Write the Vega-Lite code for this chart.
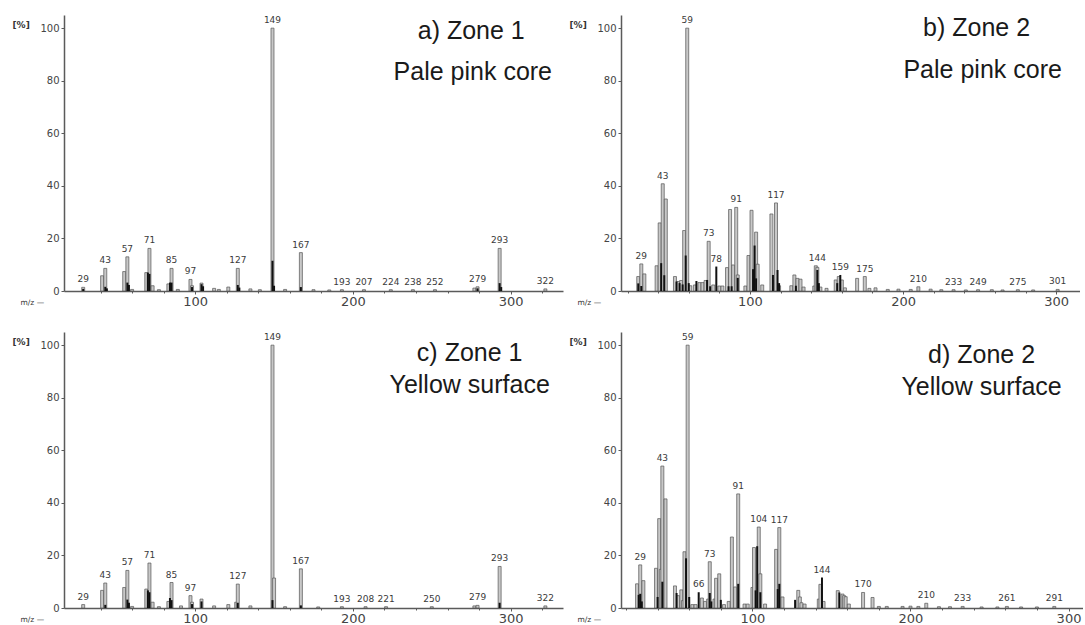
{
  "$schema": "https://vega.github.io/schema/vega-lite/v6.json",
  "background": "white",
  "padding": {"left": 12, "top": 15, "right": 0, "bottom": 0},
  "columns": 2,
  "spacing": {"row": 41, "column": 58},
  "bounds": "flush",
  "config": {
    "view": {"stroke": null},
    "axis": {"labelFont": "DejaVu Sans", "labelColor": "#444", "domainColor": "#5a5a5a", "domainWidth": 1.5, "tickColor": "#5a5a5a", "grid": false, "titleFont": "DejaVu Sans", "titleColor": "#333", "labelOverlap": false, "labelFlush": false},
    "axisX": {"labelFontSize": 13, "labelPadding": 1, "labelExpr": "datum.value % 100 == 0 ? datum.label : ''", "tickSize": {"condition": {"test": "datum.value % 100 == 0", "value": 3}, "value": 2}},
    "axisY": {"labelFontSize": 10, "labelPadding": 2, "values": [0, 4, 8, 12, 16, 20, 24, 28, 32, 36, 40, 44, 48, 52, 56, 60, 64, 68, 72, 76, 80, 84, 88, 92, 96, 100, 104], "labelExpr": "datum.value % 20 == 0 ? datum.label : ''", "tickSize": {"condition": {"test": "datum.value % 20 == 0", "value": 3}, "value": 1.5}}
  },
  "datasets": {
    "a": [
      {"mz": 29, "int": 1.4, "tone": "g"}, {"mz": 41, "int": 5.8, "tone": "g"}, {"mz": 43, "int": 8.6, "tone": "g"}, {"mz": 55, "int": 7.4, "tone": "g"}, {"mz": 57, "int": 13, "tone": "g"}, {"mz": 60, "int": 0.6, "tone": "g"}, {"mz": 69, "int": 7, "tone": "g"}, {"mz": 71, "int": 16.2, "tone": "g"}, {"mz": 73, "int": 2, "tone": "g"}, {"mz": 77, "int": 0.5, "tone": "g"}, {"mz": 83, "int": 2.7, "tone": "g"}, {"mz": 85, "int": 8.6, "tone": "g"}, {"mz": 89, "int": 0.6, "tone": "g"}, {"mz": 97, "int": 4.4, "tone": "g"}, {"mz": 98, "int": 2, "tone": "g"}, {"mz": 104, "int": 3, "tone": "g"}, {"mz": 112, "int": 1, "tone": "g"}, {"mz": 115, "int": 0.6, "tone": "g"}, {"mz": 121, "int": 1.5, "tone": "g"}, {"mz": 127, "int": 8.6, "tone": "g"}, {"mz": 135, "int": 0.8, "tone": "g"}, {"mz": 141, "int": 0.5, "tone": "g"}, {"mz": 149, "int": 100, "tone": "g"}, {"mz": 157, "int": 0.6, "tone": "g"}, {"mz": 167, "int": 14.6, "tone": "g"}, {"mz": 175, "int": 0.5, "tone": "g"}, {"mz": 185, "int": 0.4, "tone": "g"}, {"mz": 193, "int": 0.5, "tone": "g"}, {"mz": 207, "int": 0.5, "tone": "g"}, {"mz": 224, "int": 0.5, "tone": "g"}, {"mz": 238, "int": 0.5, "tone": "g"}, {"mz": 252, "int": 0.5, "tone": "g"}, {"mz": 277, "int": 1.1, "tone": "g"}, {"mz": 279, "int": 1.6, "tone": "g"}, {"mz": 293, "int": 16.2, "tone": "g"}, {"mz": 322, "int": 0.8, "tone": "g"},
      {"mz": 29, "int": 0.8, "tone": "k"}, {"mz": 43, "int": 1.6, "tone": "k"}, {"mz": 44, "int": 1, "tone": "k"}, {"mz": 57, "int": 3.2, "tone": "k"}, {"mz": 58, "int": 2.3, "tone": "k"}, {"mz": 70, "int": 7, "tone": "k"}, {"mz": 71, "int": 6.5, "tone": "k"}, {"mz": 84, "int": 3.2, "tone": "k"}, {"mz": 85, "int": 3.2, "tone": "k"}, {"mz": 98, "int": 1.5, "tone": "k"}, {"mz": 104, "int": 2.6, "tone": "k"}, {"mz": 105, "int": 1.8, "tone": "k"}, {"mz": 127, "int": 2.3, "tone": "k"}, {"mz": 128, "int": 1.3, "tone": "k"}, {"mz": 149, "int": 11.5, "tone": "k"}, {"mz": 150, "int": 2, "tone": "k"}, {"mz": 167, "int": 1.5, "tone": "k"}, {"mz": 279, "int": 1, "tone": "k"}, {"mz": 293, "int": 3, "tone": "k"}, {"mz": 294, "int": 1.5, "tone": "k"}
    ],
    "la": [
      {"mz": 29, "int": 1.4, "label": "29"}, {"mz": 43, "int": 8.6, "label": "43"}, {"mz": 57, "int": 13, "label": "57"}, {"mz": 71, "int": 16.2, "label": "71"}, {"mz": 85, "int": 8.6, "label": "85"}, {"mz": 97, "int": 4.4, "label": "97"}, {"mz": 127, "int": 8.6, "label": "127"}, {"mz": 149, "int": 100, "label": "149"}, {"mz": 167, "int": 14.6, "label": "167"}, {"mz": 193, "int": 0.5, "label": "193"}, {"mz": 207, "int": 0.5, "label": "207"}, {"mz": 224, "int": 0.5, "label": "224"}, {"mz": 238, "int": 0.5, "label": "238"}, {"mz": 252, "int": 0.5, "label": "252"}, {"mz": 279, "int": 1.6, "label": "279"}, {"mz": 293, "int": 16.2, "label": "293"}, {"mz": 322, "int": 0.8, "label": "322"}
    ],
    "ta": [
      {"mz": 275, "int": 99, "label": "a) Zone 1"}, {"mz": 276, "int": 83.3, "label": "Pale pink core"}
    ],
    "b": [
      {"mz": 27, "int": 5.5, "tone": "g"}, {"mz": 29, "int": 10.3, "tone": "g"}, {"mz": 31, "int": 6.5, "tone": "g"}, {"mz": 39, "int": 9.6, "tone": "g"}, {"mz": 41, "int": 25.9, "tone": "g"}, {"mz": 43, "int": 40.8, "tone": "g"}, {"mz": 45, "int": 35, "tone": "g"}, {"mz": 51, "int": 5.5, "tone": "g"}, {"mz": 53, "int": 3.6, "tone": "g"}, {"mz": 55, "int": 4, "tone": "g"}, {"mz": 57, "int": 23, "tone": "g"}, {"mz": 59, "int": 100, "tone": "g"}, {"mz": 61, "int": 2, "tone": "g"}, {"mz": 64, "int": 2.3, "tone": "g"}, {"mz": 67, "int": 3.2, "tone": "g"}, {"mz": 69, "int": 3.2, "tone": "g"}, {"mz": 71, "int": 4, "tone": "g"}, {"mz": 73, "int": 18.9, "tone": "g"}, {"mz": 76, "int": 2.3, "tone": "g"}, {"mz": 80, "int": 1.9, "tone": "g"}, {"mz": 82, "int": 1.9, "tone": "g"}, {"mz": 85, "int": 8.9, "tone": "g"}, {"mz": 87, "int": 31, "tone": "g"}, {"mz": 89, "int": 9.9, "tone": "g"}, {"mz": 91, "int": 31.8, "tone": "g"}, {"mz": 92, "int": 6.1, "tone": "g"}, {"mz": 97, "int": 1.9, "tone": "g"}, {"mz": 99, "int": 13.5, "tone": "g"}, {"mz": 101, "int": 30.7, "tone": "g"}, {"mz": 104, "int": 22.4, "tone": "g"}, {"mz": 105, "int": 10.2, "tone": "g"}, {"mz": 108, "int": 2.3, "tone": "g"}, {"mz": 114, "int": 29.3, "tone": "g"}, {"mz": 117, "int": 33.5, "tone": "g"}, {"mz": 119, "int": 2, "tone": "g"}, {"mz": 127, "int": 2, "tone": "g"}, {"mz": 129, "int": 6.1, "tone": "g"}, {"mz": 131, "int": 4.8, "tone": "g"}, {"mz": 133, "int": 4.5, "tone": "g"}, {"mz": 135, "int": 1.5, "tone": "g"}, {"mz": 142, "int": 1.9, "tone": "g"}, {"mz": 143, "int": 9.6, "tone": "g"}, {"mz": 144, "int": 9, "tone": "g"}, {"mz": 146, "int": 1.5, "tone": "g"}, {"mz": 150, "int": 1, "tone": "g"}, {"mz": 156, "int": 4.2, "tone": "g"}, {"mz": 158, "int": 5.5, "tone": "g"}, {"mz": 160, "int": 4.2, "tone": "g"}, {"mz": 162, "int": 1.2, "tone": "g"}, {"mz": 170, "int": 4.8, "tone": "g"}, {"mz": 175, "int": 5.5, "tone": "g"}, {"mz": 178, "int": 1, "tone": "g"}, {"mz": 182, "int": 1.2, "tone": "g"}, {"mz": 190, "int": 0.6, "tone": "g"}, {"mz": 197, "int": 0.7, "tone": "g"}, {"mz": 205, "int": 0.6, "tone": "g"}, {"mz": 210, "int": 1.6, "tone": "g"}, {"mz": 218, "int": 0.7, "tone": "g"}, {"mz": 225, "int": 0.5, "tone": "g"}, {"mz": 233, "int": 0.5, "tone": "g"}, {"mz": 241, "int": 0.4, "tone": "g"}, {"mz": 249, "int": 0.5, "tone": "g"}, {"mz": 258, "int": 0.5, "tone": "g"}, {"mz": 265, "int": 0.4, "tone": "g"}, {"mz": 275, "int": 0.5, "tone": "g"}, {"mz": 285, "int": 0.4, "tone": "g"}, {"mz": 301, "int": 0.6, "tone": "g"},
      {"mz": 27, "int": 2.9, "tone": "k"}, {"mz": 29, "int": 1.9, "tone": "k"}, {"mz": 42, "int": 10.6, "tone": "k"}, {"mz": 44, "int": 6, "tone": "k"}, {"mz": 52, "int": 3.6, "tone": "k"}, {"mz": 54, "int": 3, "tone": "k"}, {"mz": 56, "int": 2.5, "tone": "k"}, {"mz": 58, "int": 13.5, "tone": "k"}, {"mz": 60, "int": 3, "tone": "k"}, {"mz": 65, "int": 3.8, "tone": "k"}, {"mz": 72, "int": 4.2, "tone": "k"}, {"mz": 74, "int": 1.8, "tone": "k"}, {"mz": 78, "int": 9.3, "tone": "k"}, {"mz": 86, "int": 1.8, "tone": "k"}, {"mz": 88, "int": 1.8, "tone": "k"}, {"mz": 92, "int": 5, "tone": "k"}, {"mz": 102, "int": 8.3, "tone": "k"}, {"mz": 103, "int": 17.3, "tone": "k"}, {"mz": 104, "int": 4.8, "tone": "k"}, {"mz": 115, "int": 6.1, "tone": "k"}, {"mz": 118, "int": 8, "tone": "k"}, {"mz": 119, "int": 3, "tone": "k"}, {"mz": 130, "int": 2, "tone": "k"}, {"mz": 144, "int": 8, "tone": "k"}, {"mz": 145, "int": 3, "tone": "k"}, {"mz": 157, "int": 3, "tone": "k"}, {"mz": 159, "int": 6.1, "tone": "k"}
    ],
    "lb": [
      {"mz": 29, "int": 10.3, "label": "29"}, {"mz": 43, "int": 40.8, "label": "43"}, {"mz": 59, "int": 100, "label": "59"}, {"mz": 73, "int": 18.9, "label": "73"}, {"mz": 78, "int": 9.3, "label": "78"}, {"mz": 91, "int": 31.8, "label": "91"}, {"mz": 117, "int": 33.5, "label": "117"}, {"mz": 144, "int": 9.6, "label": "144"}, {"mz": 159, "int": 6.1, "label": "159"}, {"mz": 175, "int": 5.5, "label": "175"}, {"mz": 210, "int": 1.6, "label": "210"}, {"mz": 233, "int": 0.5, "label": "233"}, {"mz": 249, "int": 0.5, "label": "249"}, {"mz": 275, "int": 0.5, "label": "275"}, {"mz": 301, "int": 0.6, "label": "301"}
    ],
    "tb": [
      {"mz": 248, "int": 100, "label": "b) Zone 2"}, {"mz": 252, "int": 84, "label": "Pale pink core"}
    ],
    "c": [
      {"mz": 29, "int": 1.3, "tone": "g"}, {"mz": 41, "int": 6.7, "tone": "g"}, {"mz": 43, "int": 9.5, "tone": "g"}, {"mz": 55, "int": 7.8, "tone": "g"}, {"mz": 57, "int": 14.3, "tone": "g"}, {"mz": 60, "int": 0.6, "tone": "g"}, {"mz": 69, "int": 7.2, "tone": "g"}, {"mz": 71, "int": 17.1, "tone": "g"}, {"mz": 73, "int": 2.2, "tone": "g"}, {"mz": 77, "int": 0.5, "tone": "g"}, {"mz": 83, "int": 2.5, "tone": "g"}, {"mz": 85, "int": 9.7, "tone": "g"}, {"mz": 91, "int": 0.8, "tone": "g"}, {"mz": 97, "int": 4.7, "tone": "g"}, {"mz": 98, "int": 2.2, "tone": "g"}, {"mz": 104, "int": 3.4, "tone": "g"}, {"mz": 112, "int": 0.8, "tone": "g"}, {"mz": 121, "int": 1.3, "tone": "g"}, {"mz": 126, "int": 2.2, "tone": "g"}, {"mz": 127, "int": 9.1, "tone": "g"}, {"mz": 135, "int": 0.8, "tone": "g"}, {"mz": 149, "int": 100, "tone": "g"}, {"mz": 150, "int": 11.4, "tone": "g"}, {"mz": 157, "int": 0.5, "tone": "g"}, {"mz": 167, "int": 14.9, "tone": "g"}, {"mz": 178, "int": 0.4, "tone": "g"}, {"mz": 193, "int": 0.5, "tone": "g"}, {"mz": 208, "int": 0.5, "tone": "g"}, {"mz": 221, "int": 0.5, "tone": "g"}, {"mz": 250, "int": 0.5, "tone": "g"}, {"mz": 277, "int": 0.8, "tone": "g"}, {"mz": 279, "int": 1, "tone": "g"}, {"mz": 293, "int": 15.8, "tone": "g"}, {"mz": 322, "int": 0.8, "tone": "g"},
      {"mz": 43, "int": 1.2, "tone": "k"}, {"mz": 57, "int": 3.2, "tone": "k"}, {"mz": 58, "int": 2, "tone": "k"}, {"mz": 70, "int": 6.7, "tone": "k"}, {"mz": 71, "int": 6, "tone": "k"}, {"mz": 84, "int": 3.8, "tone": "k"}, {"mz": 85, "int": 3, "tone": "k"}, {"mz": 98, "int": 1.5, "tone": "k"}, {"mz": 104, "int": 2.5, "tone": "k"}, {"mz": 127, "int": 2, "tone": "k"}, {"mz": 149, "int": 3, "tone": "k"}, {"mz": 167, "int": 1, "tone": "k"}, {"mz": 293, "int": 2, "tone": "k"}
    ],
    "lc": [
      {"mz": 29, "int": 1.3, "label": "29"}, {"mz": 43, "int": 9.5, "label": "43"}, {"mz": 57, "int": 14.3, "label": "57"}, {"mz": 71, "int": 17.1, "label": "71"}, {"mz": 85, "int": 9.7, "label": "85"}, {"mz": 97, "int": 4.7, "label": "97"}, {"mz": 127, "int": 9.1, "label": "127"}, {"mz": 149, "int": 100, "label": "149"}, {"mz": 167, "int": 14.9, "label": "167"}, {"mz": 193, "int": 0.5, "label": "193"}, {"mz": 208, "int": 0.5, "label": "208"}, {"mz": 221, "int": 0.5, "label": "221"}, {"mz": 250, "int": 0.5, "label": "250"}, {"mz": 279, "int": 1, "label": "279"}, {"mz": 293, "int": 15.8, "label": "293"}, {"mz": 322, "int": 0.8, "label": "322"}
    ],
    "tc": [
      {"mz": 274, "int": 97, "label": "c) Zone 1"}, {"mz": 274, "int": 84.8, "label": "Yellow surface"}
    ],
    "d": [
      {"mz": 27, "int": 9.2, "tone": "g"}, {"mz": 29, "int": 16.4, "tone": "g"}, {"mz": 31, "int": 10.4, "tone": "g"}, {"mz": 39, "int": 15.1, "tone": "g"}, {"mz": 41, "int": 34, "tone": "g"}, {"mz": 42, "int": 14.7, "tone": "g"}, {"mz": 43, "int": 54, "tone": "g"}, {"mz": 45, "int": 41.5, "tone": "g"}, {"mz": 51, "int": 8.4, "tone": "g"}, {"mz": 53, "int": 4.7, "tone": "g"}, {"mz": 55, "int": 6.9, "tone": "g"}, {"mz": 56, "int": 2.8, "tone": "g"}, {"mz": 57, "int": 21.4, "tone": "g"}, {"mz": 59, "int": 100, "tone": "g"}, {"mz": 62, "int": 1.3, "tone": "g"}, {"mz": 64, "int": 1.3, "tone": "g"}, {"mz": 68, "int": 3.8, "tone": "g"}, {"mz": 70, "int": 2.5, "tone": "g"}, {"mz": 72, "int": 3.4, "tone": "g"}, {"mz": 73, "int": 17.6, "tone": "g"}, {"mz": 76, "int": 3.4, "tone": "g"}, {"mz": 77, "int": 11.3, "tone": "g"}, {"mz": 79, "int": 13, "tone": "g"}, {"mz": 82, "int": 1.3, "tone": "g"}, {"mz": 85, "int": 2.5, "tone": "g"}, {"mz": 87, "int": 27, "tone": "g"}, {"mz": 89, "int": 8, "tone": "g"}, {"mz": 91, "int": 43.4, "tone": "g"}, {"mz": 95, "int": 1.5, "tone": "g"}, {"mz": 97, "int": 1.5, "tone": "g"}, {"mz": 100, "int": 7.8, "tone": "g"}, {"mz": 101, "int": 23, "tone": "g"}, {"mz": 104, "int": 30.8, "tone": "g"}, {"mz": 105, "int": 13, "tone": "g"}, {"mz": 108, "int": 1.5, "tone": "g"}, {"mz": 115, "int": 22.3, "tone": "g"}, {"mz": 117, "int": 30.6, "tone": "g"}, {"mz": 119, "int": 4.2, "tone": "g"}, {"mz": 129, "int": 6.7, "tone": "g"}, {"mz": 130, "int": 4.2, "tone": "g"}, {"mz": 131, "int": 2, "tone": "g"}, {"mz": 133, "int": 1.5, "tone": "g"}, {"mz": 142, "int": 3.4, "tone": "g"}, {"mz": 143, "int": 9, "tone": "g"}, {"mz": 145, "int": 2.5, "tone": "g"}, {"mz": 154, "int": 6.6, "tone": "g"}, {"mz": 157, "int": 5.3, "tone": "g"}, {"mz": 158, "int": 4.7, "tone": "g"}, {"mz": 159, "int": 4.3, "tone": "g"}, {"mz": 161, "int": 1.5, "tone": "g"}, {"mz": 170, "int": 5.9, "tone": "g"}, {"mz": 176, "int": 4, "tone": "g"}, {"mz": 180, "int": 0.6, "tone": "g"}, {"mz": 185, "int": 0.6, "tone": "g"}, {"mz": 195, "int": 0.6, "tone": "g"}, {"mz": 200, "int": 0.7, "tone": "g"}, {"mz": 205, "int": 0.6, "tone": "g"}, {"mz": 210, "int": 1.8, "tone": "g"}, {"mz": 218, "int": 0.5, "tone": "g"}, {"mz": 225, "int": 0.5, "tone": "g"}, {"mz": 233, "int": 0.6, "tone": "g"}, {"mz": 245, "int": 0.4, "tone": "g"}, {"mz": 255, "int": 0.4, "tone": "g"}, {"mz": 261, "int": 0.6, "tone": "g"}, {"mz": 270, "int": 0.4, "tone": "g"}, {"mz": 280, "int": 0.4, "tone": "g"}, {"mz": 291, "int": 0.6, "tone": "g"},
      {"mz": 28, "int": 5, "tone": "k"}, {"mz": 29, "int": 5.4, "tone": "k"}, {"mz": 30, "int": 2.5, "tone": "k"}, {"mz": 40, "int": 4.2, "tone": "k"}, {"mz": 43, "int": 10, "tone": "k"}, {"mz": 52, "int": 5.7, "tone": "k"}, {"mz": 58, "int": 18.9, "tone": "k"}, {"mz": 60, "int": 4.2, "tone": "k"}, {"mz": 66, "int": 6, "tone": "k"}, {"mz": 73, "int": 5.7, "tone": "k"}, {"mz": 74, "int": 2.5, "tone": "k"}, {"mz": 80, "int": 3.1, "tone": "k"}, {"mz": 91, "int": 9.2, "tone": "k"}, {"mz": 102, "int": 6.7, "tone": "k"}, {"mz": 103, "int": 23.5, "tone": "k"}, {"mz": 105, "int": 6, "tone": "k"}, {"mz": 116, "int": 7.2, "tone": "k"}, {"mz": 117, "int": 9.2, "tone": "k"}, {"mz": 127, "int": 3.1, "tone": "k"}, {"mz": 144, "int": 11.6, "tone": "k"}, {"mz": 155, "int": 5.9, "tone": "k"}
    ],
    "ld": [
      {"mz": 29, "int": 16.4, "label": "29"}, {"mz": 43, "int": 54, "label": "43"}, {"mz": 59, "int": 100, "label": "59"}, {"mz": 66, "int": 6, "label": "66"}, {"mz": 73, "int": 17.6, "label": "73"}, {"mz": 91, "int": 43.4, "label": "91"}, {"mz": 104, "int": 30.8, "label": "104"}, {"mz": 117, "int": 30.6, "label": "117"}, {"mz": 144, "int": 11.6, "label": "144"}, {"mz": 170, "int": 5.9, "label": "170"}, {"mz": 210, "int": 1.8, "label": "210"}, {"mz": 233, "int": 0.6, "label": "233"}, {"mz": 261, "int": 0.6, "label": "261"}, {"mz": 291, "int": 0.6, "label": "291"}
    ],
    "td": [
      {"mz": 245, "int": 96.2, "label": "d) Zone 2"}, {"mz": 245, "int": 84, "label": "Yellow surface"}
    ]
  },
  "concat": [
    {
      "width": 499, "height": 276,
      "encoding": {
        "x": {"field": "mz", "type": "quantitative", "scale": {"domain": [20, 330], "nice": false, "zero": false}, "axis": {"values": [40, 60, 80, 100, 120, 140, 160, 180, 200, 220, 240, 260, 280, 300, 320], "title": "m/z —", "titleX": -44, "titleY": 11, "titleAlign": "left", "titleBaseline": "middle", "titleFontSize": 7.5, "titleFontWeight": "normal"}},
        "y": {"field": "int", "type": "quantitative", "scale": {"domain": [0, 105], "nice": false}, "axis": {"title": "[%]", "titleAngle": 0, "titleX": -52, "titleY": 9, "titleAlign": "left", "titleBaseline": "middle", "titleFontSize": 9, "titleFontWeight": "bold"}}
      },
      "layer": [
        {"data": {"name": "a"}, "transform": [{"filter": "datum.tone == 'g'"}], "mark": {"type": "bar", "size": 3, "fill": "#c8c8c8", "stroke": "#555", "strokeWidth": 0.7}},
        {"data": {"name": "a"}, "transform": [{"filter": "datum.tone == 'k'"}], "mark": {"type": "bar", "size": 2, "fill": "#111"}},
        {"data": {"name": "la"}, "mark": {"type": "text", "baseline": "bottom", "dy": -3, "fontSize": 9, "font": "DejaVu Sans", "color": "#3a3a3a"}, "encoding": {"text": {"field": "label"}}},
        {"data": {"name": "ta"}, "mark": {"type": "text", "baseline": "middle", "align": "center", "fontSize": 25, "font": "Liberation Sans", "color": "#1a1a1a"}, "encoding": {"text": {"field": "label"}}}
      ]
    },
    {
      "width": 458.5, "height": 276,
      "encoding": {
        "x": {"field": "mz", "type": "quantitative", "scale": {"domain": [19, 312], "nice": false, "zero": false}, "axis": {"values": [20, 40, 60, 80, 100, 120, 140, 160, 180, 200, 220, 240, 260, 280, 300], "title": "m/z —", "titleX": -44, "titleY": 11, "titleAlign": "left", "titleBaseline": "middle", "titleFontSize": 7.5, "titleFontWeight": "normal"}},
        "y": {"field": "int", "type": "quantitative", "scale": {"domain": [0, 105], "nice": false}, "axis": {"title": "[%]", "titleAngle": 0, "titleX": -52, "titleY": 9, "titleAlign": "left", "titleBaseline": "middle", "titleFontSize": 9, "titleFontWeight": "bold"}}
      },
      "layer": [
        {"data": {"name": "b"}, "transform": [{"filter": "datum.tone == 'g'"}], "mark": {"type": "bar", "size": 3, "fill": "#c8c8c8", "stroke": "#555", "strokeWidth": 0.7}},
        {"data": {"name": "b"}, "transform": [{"filter": "datum.tone == 'k'"}], "mark": {"type": "bar", "size": 2, "fill": "#111"}},
        {"data": {"name": "lb"}, "mark": {"type": "text", "baseline": "bottom", "dy": -3, "fontSize": 9, "font": "DejaVu Sans", "color": "#3a3a3a"}, "encoding": {"text": {"field": "label"}}},
        {"data": {"name": "tb"}, "mark": {"type": "text", "baseline": "middle", "align": "center", "fontSize": 25, "font": "Liberation Sans", "color": "#1a1a1a"}, "encoding": {"text": {"field": "label"}}}
      ]
    },
    {
      "width": 499, "height": 276,
      "encoding": {
        "x": {"field": "mz", "type": "quantitative", "scale": {"domain": [20, 330], "nice": false, "zero": false}, "axis": {"values": [40, 60, 80, 100, 120, 140, 160, 180, 200, 220, 240, 260, 280, 300, 320], "title": "m/z —", "titleX": -44, "titleY": 11, "titleAlign": "left", "titleBaseline": "middle", "titleFontSize": 7.5, "titleFontWeight": "normal"}},
        "y": {"field": "int", "type": "quantitative", "scale": {"domain": [0, 105], "nice": false}, "axis": {"title": "[%]", "titleAngle": 0, "titleX": -52, "titleY": 9, "titleAlign": "left", "titleBaseline": "middle", "titleFontSize": 9, "titleFontWeight": "bold"}}
      },
      "layer": [
        {"data": {"name": "c"}, "transform": [{"filter": "datum.tone == 'g'"}], "mark": {"type": "bar", "size": 3, "fill": "#c8c8c8", "stroke": "#555", "strokeWidth": 0.7}},
        {"data": {"name": "c"}, "transform": [{"filter": "datum.tone == 'k'"}], "mark": {"type": "bar", "size": 2, "fill": "#111"}},
        {"data": {"name": "lc"}, "mark": {"type": "text", "baseline": "bottom", "dy": -3, "fontSize": 9, "font": "DejaVu Sans", "color": "#3a3a3a"}, "encoding": {"text": {"field": "label"}}},
        {"data": {"name": "tc"}, "mark": {"type": "text", "baseline": "middle", "align": "center", "fontSize": 25, "font": "Liberation Sans", "color": "#1a1a1a"}, "encoding": {"text": {"field": "label"}}}
      ]
    },
    {
      "width": 462, "height": 276,
      "encoding": {
        "x": {"field": "mz", "type": "quantitative", "scale": {"domain": [20, 306], "nice": false, "zero": false}, "axis": {"values": [20, 40, 60, 80, 100, 120, 140, 160, 180, 200, 220, 240, 260, 280, 300], "title": "m/z —", "titleX": -44, "titleY": 11, "titleAlign": "left", "titleBaseline": "middle", "titleFontSize": 7.5, "titleFontWeight": "normal"}},
        "y": {"field": "int", "type": "quantitative", "scale": {"domain": [0, 105], "nice": false}, "axis": {"title": "[%]", "titleAngle": 0, "titleX": -52, "titleY": 9, "titleAlign": "left", "titleBaseline": "middle", "titleFontSize": 9, "titleFontWeight": "bold"}}
      },
      "layer": [
        {"data": {"name": "d"}, "transform": [{"filter": "datum.tone == 'g'"}], "mark": {"type": "bar", "size": 3, "fill": "#c8c8c8", "stroke": "#555", "strokeWidth": 0.7}},
        {"data": {"name": "d"}, "transform": [{"filter": "datum.tone == 'k'"}], "mark": {"type": "bar", "size": 2, "fill": "#111"}},
        {"data": {"name": "ld"}, "mark": {"type": "text", "baseline": "bottom", "dy": -3, "fontSize": 9, "font": "DejaVu Sans", "color": "#3a3a3a"}, "encoding": {"text": {"field": "label"}}},
        {"data": {"name": "td"}, "mark": {"type": "text", "baseline": "middle", "align": "center", "fontSize": 25, "font": "Liberation Sans", "color": "#1a1a1a"}, "encoding": {"text": {"field": "label"}}}
      ]
    }
  ]
}
